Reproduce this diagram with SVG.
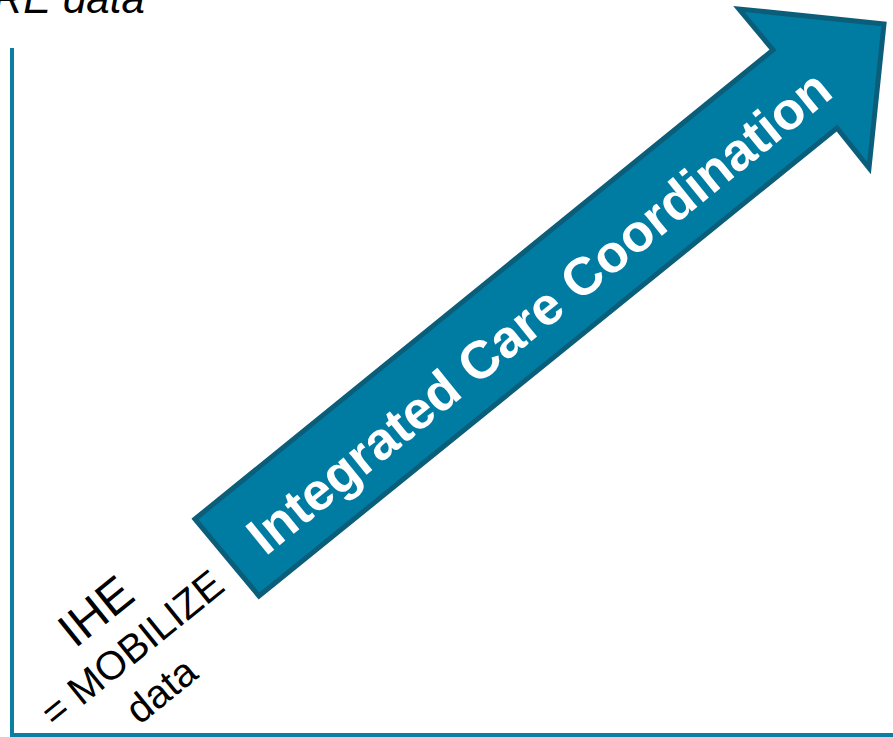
<svg xmlns="http://www.w3.org/2000/svg" width="893" height="737" viewBox="0 0 893 737">
<style>
.axis{stroke:#0A7EA3;stroke-width:4;fill:none}
.arrow{fill:#007CA3;stroke:#0B5E7A;stroke-width:5;stroke-linejoin:miter}
.lbl{font-family:"Liberation Sans",Arial,sans-serif;fill:#000}
.arrtxt{font-family:"Liberation Sans",Arial,sans-serif;font-weight:bold;fill:#fff}
</style>
<rect width="893" height="737" fill="#fff"/>
<g id="axes">
<path class="axis" d="M12,48 V735 H893"/>
</g>
<g id="top-label">
<text class="lbl" x="-7" y="13" font-size="42" font-style="italic">RE data</text>
</g>
<g id="arrow">
<polygon class="arrow" points="195,519 773,50 739,9 884,24 869,168 837,128 259,596"/>
<text class="arrtxt" font-size="53" text-anchor="middle" transform="translate(539,312) rotate(-39)" y="18">Integrated Care Coordination</text>
</g>
<g id="ihe-label" transform="translate(131,650) rotate(-39)">
<text class="lbl" x="-3" y="-36" font-size="48" text-anchor="middle">IHE</text>
<text class="lbl" x="2" y="13" font-size="40" text-anchor="middle">= MOBILIZE</text>
<text class="lbl" x="-2" y="64" font-size="40" text-anchor="middle">data</text>
</g>
</svg>
